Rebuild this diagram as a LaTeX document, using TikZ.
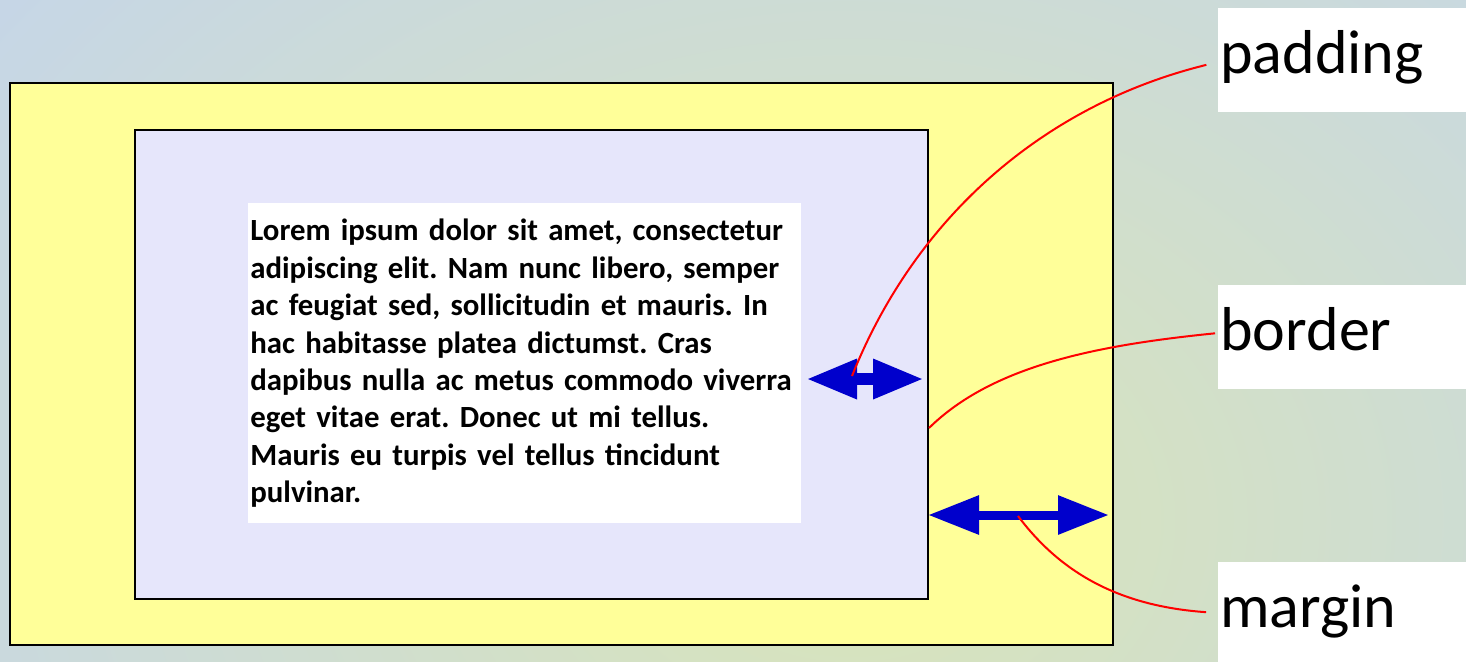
\documentclass[tikz,border=0pt]{standalone}
\usepackage{fontspec}
\setmainfont{Carlito}
\usepackage{tikz}
\usetikzlibrary{arrows.meta, positioning}

\definecolor{bgin}{RGB}{217,229,184}
\definecolor{bgout}{RGB}{194,211,240}
\definecolor{marginfill}{RGB}{255,255,153}
\definecolor{paddingfill}{RGB}{230,230,251}
\definecolor{arrowblue}{RGB}{0,0,204}
\frenchspacing

\begin{document}
\begin{tikzpicture}[x=0.5pt, y=-0.5pt,
        box/.style={rectangle, draw=black, line width=1pt, anchor=north west, inner sep=0pt},
        marginbox/.style={box, fill=marginfill, minimum width=551.5pt, minimum height=281pt},
        paddingbox/.style={box, fill=paddingfill, minimum width=396.5pt, minimum height=234.5pt},
        content/.style={rectangle, fill=white, anchor=north west, inner xsep=1pt, inner ysep=0pt, text width=274.5pt, minimum height=160pt, align=left, font=\bfseries\fontsize{15.4}{18.7}\selectfont},
        label/.style={rectangle, fill=white, anchor=north west, inner xsep=1pt, inner ysep=0pt, text width=122pt, minimum height=52pt, align=left, text height=22pt, text depth=9pt, font=\fontsize{31}{36}\selectfont},
        dimarrow/.style={draw=arrowblue, {Triangle[length=25.5pt,width=18.5pt]}-{Triangle[length=25.5pt,width=18.5pt]}},
        leader/.style={draw=red, line width=1pt}
    ]
        \useasboundingbox (0,0) rectangle (1466,661);
        \begin{scope}
            \clip (0,0) rectangle (1466,661);
            \shade[inner color=bgin, outer color=bgout] (-450,-500) rectangle (2150,1540);
        \end{scope}

        \node[marginbox] (outer) at (9,82) {};
        \node[paddingbox] (inner) at (134,129) {};
        \node[content] (text) at (248,203) {Lorem ipsum dolor sit amet, consectetur\\adipiscing elit. Nam nunc libero, semper\\ac feugiat sed, sollicitudin et mauris. In\\hac habitasse platea dictumst. Cras\\dapibus nulla ac metus commodo viverra\\eget vitae erat. Donec ut mi tellus.\\Mauris eu turpis vel tellus tincidunt\\pulvinar.};

        \node[label] (padding) at (1218,8) {padding};
        \node[label] (border) at (1218,285) {border};
        \node[label] (margin) at (1218,562) {margin};

        \coordinate (padL) at (806,379);
        \coordinate (padR) at (924,379);
        \coordinate (marL) at (928,515);
        \coordinate (marR) at (1109,515);
        \coordinate (padtip) at (852,376);
        \coordinate (bordertip) at (929,428);
        \coordinate (martip) at (1018,516);

        \draw[dimarrow, line width=6pt] (padL) -- (padR);
        \draw[dimarrow, line width=4.5pt] (marL) -- (marR);

        \draw[leader, shorten >=6pt] (padtip) .. controls +(63,-158) and +(-175,43) .. (padding.west |- 0,62);
        \draw[leader, shorten >=1.5pt] (bordertip) .. controls +(64,-63) and +(-119,12) .. (border.west |- 0,333);
        \draw[leader, shorten >=6pt] (martip) .. controls +(42,56) and +(-100,-7) .. (margin.west |- 0,613);
    \end{tikzpicture}
\end{document}
